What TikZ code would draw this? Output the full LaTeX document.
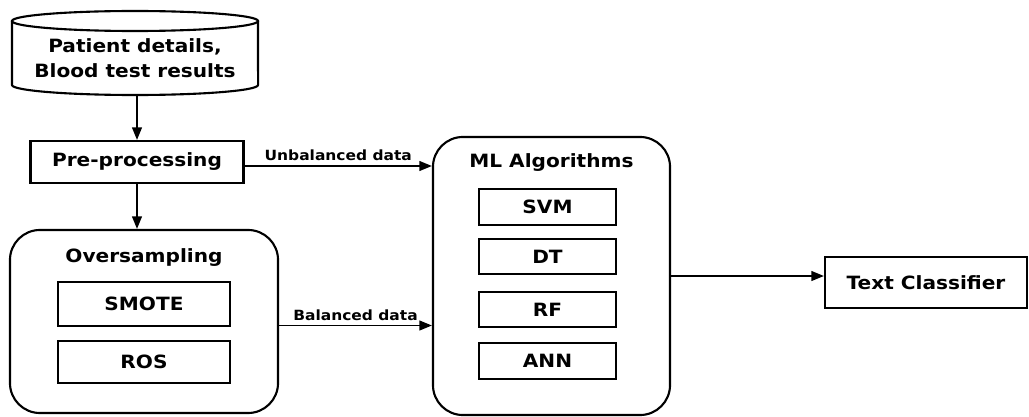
\documentclass[tikz,border=0pt]{standalone}
\usepackage{fontspec}
\setmainfont{DejaVu Sans}[FakeStretch=1.1]
\usetikzlibrary{
    arrows.meta,
}

\tikzset{
  big/.style={font=\bfseries\fontsize{13}{18}\selectfont},
  box/.style={draw, line width=1.5pt, big, inner sep=0pt},
  group/.style={draw, line width=1.5pt, rounded corners=0.75cm, inner sep=0pt},
  flow/.style={line width=1.3pt, -{Triangle[length=9pt,width=7pt]}},
  tag/.style={font=\bfseries\fontsize{10}{12}\selectfont, above, inner sep=3pt},
}

\begin{document}
\begin{tikzpicture}[x=0.025cm, y=0.025cm]
  \useasboundingbox (0,0) rectangle (1029,416);

  % data store (drawn as a cylinder)
  \draw[line width=1.5pt] (12,395) -- (12,331) arc (180:360:3.075cm and 0.25cm) -- (258,395);
  \draw[line width=1.5pt] (135,395) ellipse (3.075cm and 0.25cm);
  \node[big, align=center] (db) at (135,358) {Patient details,\\Blood test results};
  \coordinate (dbbot) at (137,321);

  \node[box, minimum width=5.325cm, minimum height=1.05cm] (pre) at (137,254) {Pre-processing};

  % oversampling block
  \node[group, minimum width=6.7cm, minimum height=4.575cm] (over) at (144,94.5) {};
  \node[big] (overtitle) at (144,158) {Oversampling};
  \node[box, minimum width=4.3cm, minimum height=1.1cm] (smote) at (144,112) {SMOTE};
  \node[box, minimum width=4.3cm, minimum height=1.05cm] (ros) at (144,54) {ROS};

  % classifiers
  \node[group, minimum width=5.925cm, minimum height=6.95cm] (ml) at (551.5,140) {};
  \node[big] (mltitle) at (551.5,253) {ML Algorithms};
  \foreach \name/\y in {SVM/209, DT/159.5, RF/106.5, ANN/55}
    \node[box, minimum width=3.425cm, minimum height=0.88cm] (\name) at (547.5,\y) {\name};

  \node[box, minimum width=5.05cm, minimum height=1.275cm] (tc) at (926,133.5) {Text Classifier};

  \draw[flow] (dbbot) -- (dbbot |- pre.north);
  \draw[flow] (pre.south) -- (pre.south |- over.north);
  \draw[flow] ([yshift=-0.1cm]pre.east) -- node[tag] {Unbalanced data} ([yshift=-0.1cm]pre.east -| ml.west);
  \draw[flow] ([yshift=-0.1cm]over.east) -- node[tag] {Balanced data} ([yshift=-0.1cm]over.east -| ml.west);
  \draw[flow] (ml.east) -- (ml.east -| tc.west);
\end{tikzpicture}
\end{document}
